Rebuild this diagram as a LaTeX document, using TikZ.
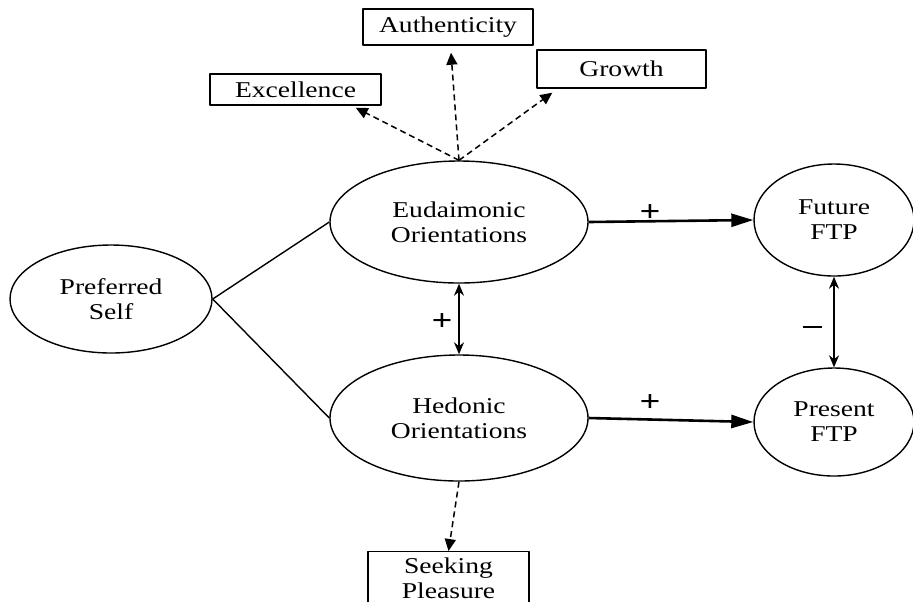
\documentclass[tikz,border=0pt]{standalone}
\usepackage{fontspec}
\setmainfont{Liberation Serif}[FakeStretch=1.22]
\usetikzlibrary{shapes.geometric,arrows.meta}
\tikzset{
  constructo/.style={draw, ellipse, align=center, inner sep=0pt},
  caja/.style={draw, rectangle, align=center, inner xsep=0pt, inner ysep=3pt},
  camino/.style={line width=1.3pt, -{Triangle[length=11pt,width=6.5pt]}},
  covar/.style={line width=0.75pt, {Stealth[length=6pt,width=5pt]}-{Stealth[length=6pt,width=5pt]}},
  indicador/.style={line width=0.75pt, dash pattern=on 3pt off 2pt, -{Triangle[length=6pt,width=5.5pt]}},
  signo/.style={font=\fontsize{15}{15}\selectfont\bfseries, inner sep=0pt}
}
\begin{document}
\begin{tikzpicture}[x=0.5pt, y=-0.5pt, line width=0.7pt, line join=round,
  font=\fontsize{11.3}{12.5}\selectfont]
  \useasboundingbox (0,0) rectangle (913,601);
  \clip (0,0) rectangle (913,601);
  % los constructos
  \node[constructo, minimum width=101pt, minimum height=54pt] (pref) at (111,299) {Preferred\\Self};
  \node[constructo, minimum width=129pt, minimum height=61pt] (eud) at (459,222) {Eudaimonic\\Orientations};
  \node[constructo, minimum width=129pt, minimum height=63pt] (hed) at (459,418) {Hedonic\\Orientations};
  \node[constructo, minimum width=80pt, minimum height=56pt] (fut) at (834,220) {Future\\FTP};
  \node[constructo, minimum width=80pt, minimum height=54pt] (pres) at (834,422) {Present\\FTP};
  % los indicadores
  \node[caja, minimum width=85pt, minimum height=18pt] (auth) at (448,27) {Authenticity};
  \node[caja, minimum width=85.5pt, minimum height=15.5pt] (exc) at (295.5,89.5) {Excellence};
  \node[caja, minimum width=84.5pt, minimum height=19pt] (gro) at (621.5,69) {Growth};
  \node[caja, minimum width=80.5pt, anchor=north] (seek) at (448.5,551) {Seeking\\Pleasure};
  % las relaciones
  \draw (pref.east) -- (eud.west);
  \draw (pref.east) -- (hed.west);
  \draw[camino] (eud.east) -- (fut.west);
  \draw[camino] (hed.east) -- (pres.west);
  \draw[covar] (eud.south) -- (hed.north);
  \draw[covar] (fut.south) -- (pres.north);
  % las flechas a trazos
  \draw[indicador] (eud.north) -- ([xshift=-13pt,yshift=-1pt]exc.south east);
  \draw[indicador] (eud.north) -- ([xshift=1.5pt,yshift=-3.5pt]auth.south);
  \draw[indicador] (eud.north) -- ([xshift=8pt,yshift=-2pt]gro.south west);
  \draw[indicador] (hed.south) -- (seek.north);
  % los signos
  \node[signo] (s1) at (650,213) {+};
  \node[signo] (s2) at (650,403) {+};
  \node[signo] (s3) at (442,322) {+};
  \node[inner sep=0pt] (s4) at (812,327) {\rule{9.5pt}{0.9pt}};
\end{tikzpicture}
\end{document}
